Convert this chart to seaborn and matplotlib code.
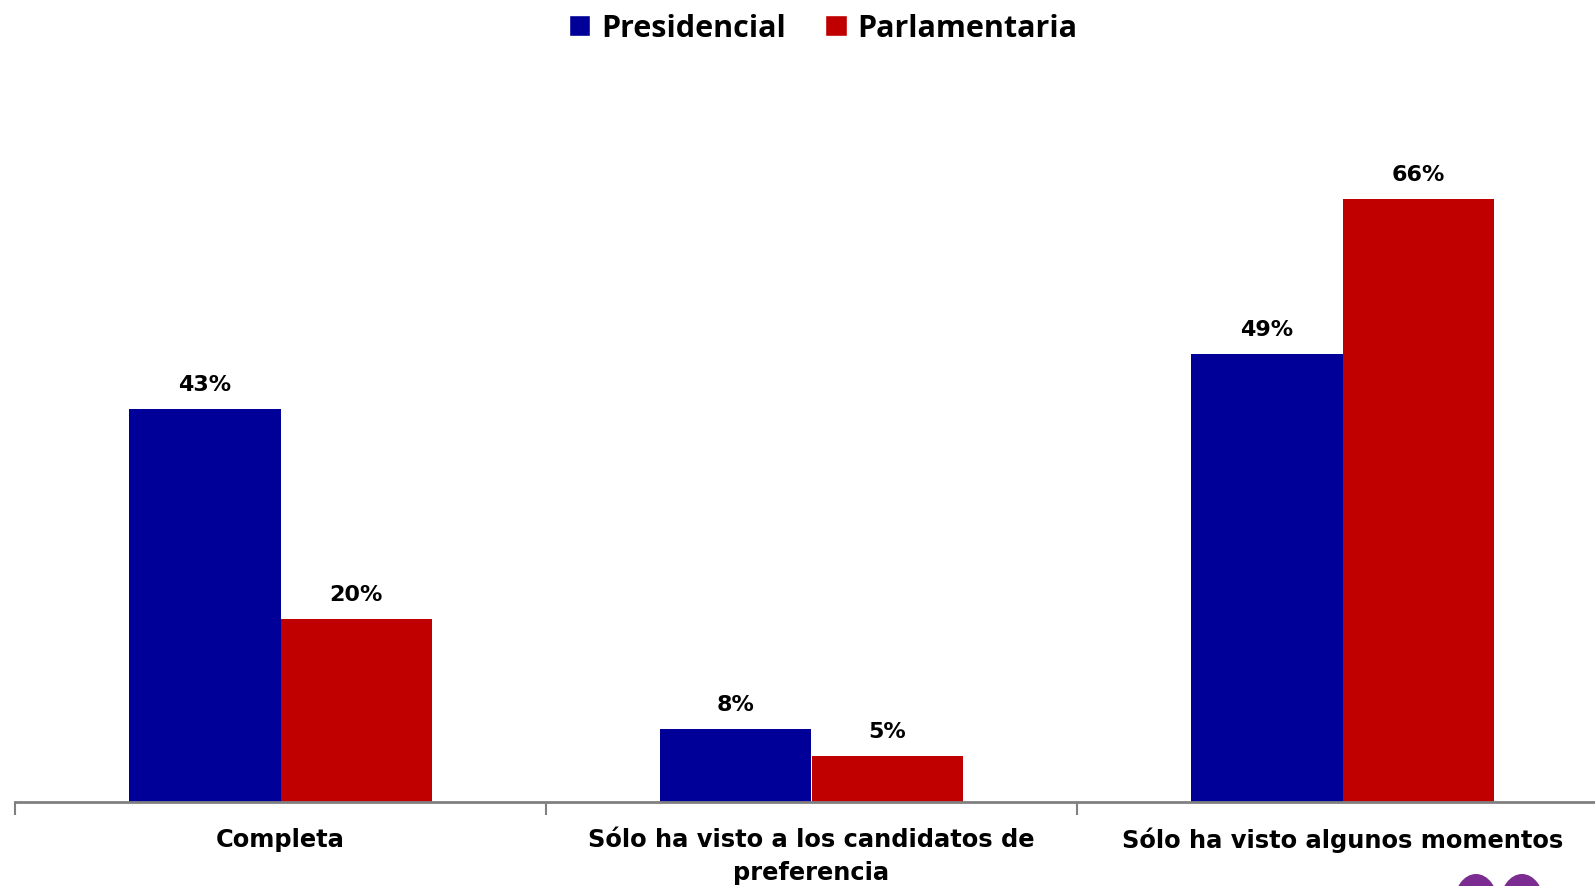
import pandas as pd
import matplotlib.pyplot as plt
import seaborn as sns
from matplotlib.patches import Patch, Ellipse

categories = ['Completa', 'Sólo ha visto a los candidatos de\npreferencia', 'Sólo ha visto algunos momentos']
series = ['Presidencial', 'Parlamentaria']
presidencial = [43, 8, 49]
parlamentaria = [20, 5, 66]
colors = ['#000099', '#C00000']

df = pd.DataFrame({
    'categoria': categories * 2,
    'tipo': [series[0]] * 3 + [series[1]] * 3,
    'valor': presidencial + parlamentaria,
})

sns.set_style('white')
plt.rcParams['font.family'] = ['DejaVu Sans']
plt.rcParams['text.color'] = 'black'
plt.rcParams['xtick.color'] = 'black'

fig = plt.figure(figsize=(15.95, 8.87), dpi=100)
ax = fig.add_axes([15 / 1595, 84 / 887, 1593 / 1595, 685 / 887])

sns.barplot(data=df, x='categoria', y='valor', hue='tipo', order=categories,
            hue_order=series, palette=colors, width=0.57, saturation=1,
            linewidth=0, legend=False, ax=ax)

for container in ax.containers:
    for bar in container:
        h = bar.get_height()
        ax.annotate('{:.0f}%'.format(h), (bar.get_x() + bar.get_width() / 2, h),
                    xytext=(0, 11), textcoords='offset points',
                    ha='center', va='bottom', fontsize=16, fontweight='bold',
                    color='black')

ax.set_xlim(-0.5, 2.5)
ax.set_ylim(0, 75)
ax.set_xlabel('')
ax.set_ylabel('')
ax.set_yticks([])
for s in ['top', 'right', 'left']:
    ax.spines[s].set_visible(False)
ax.spines['bottom'].set_color('#808080')
ax.spines['bottom'].set_linewidth(2)

ax.set_xticks([-0.5, 0.5, 1.5, 2.5], minor=True)
ax.tick_params(axis='x', which='minor', bottom=True, length=9, width=1.5,
               color='#808080', direction='out')
ax.tick_params(axis='x', which='major', bottom=True, length=0, pad=18, labelcolor='black')
for lbl in ax.get_xticklabels():
    lbl.set_fontsize(17.4)
    lbl.set_fontweight('bold')
    lbl.set_linespacing(1.45)
    lbl.set_verticalalignment('top')

handles = [Patch(facecolor=c, label=s) for c, s in zip(colors, series)]
leg = fig.legend(handles=handles, loc='center', bbox_to_anchor=(0.516, 1 - 29 / 887),
                 ncol=2, frameon=False, handlelength=0.7, handleheight=0.7,
                 handletextpad=0.35, columnspacing=1.3,
                 prop={'family': 'Open Sans', 'weight': 'bold', 'size': 22})
for t in leg.get_texts():
    t.set_color('black')

# fragment of the logo cut at the bottom edge
for cx in [1476, 1522]:
    fig.patches.append(Ellipse((cx / 1595, (887 - 905) / 887), 44 / 1595, 60 / 887,
                               transform=fig.transFigure, facecolor='#7B2C91',
                               edgecolor='none'))

fig.savefig('out.png', dpi=100)
